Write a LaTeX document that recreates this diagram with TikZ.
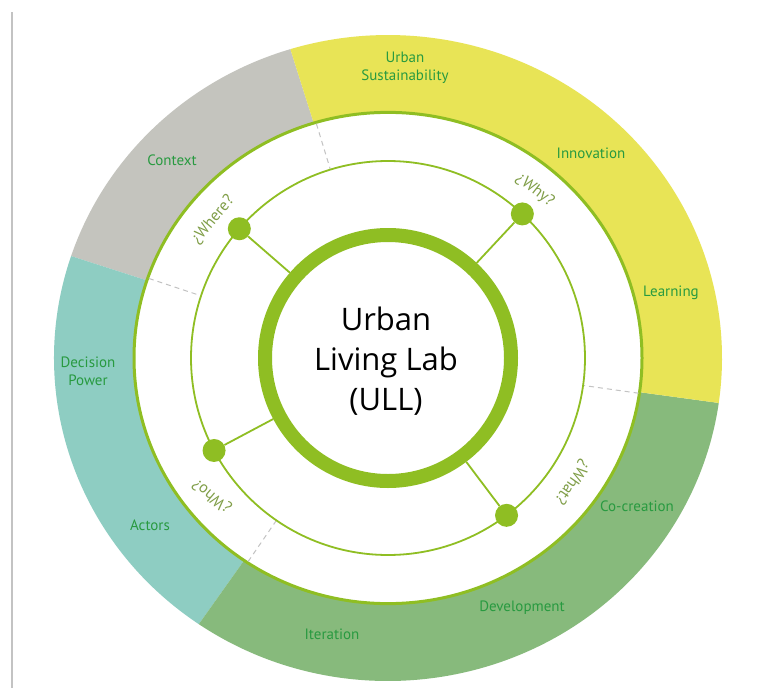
\documentclass[tikz,border=0pt]{standalone}
\usepackage{fontspec}
\setmainfont{PT Sans}
\newfontfamily\ctrfont{Open Sans}
\definecolor{lime}{RGB}{143,190,35}
\definecolor{yellowbg}{RGB}{232,228,86}
\definecolor{graybg}{RGB}{196,196,190}
\definecolor{tealbg}{RGB}{142,205,194}
\definecolor{greenbg}{RGB}{135,186,124}
\definecolor{lbltext}{RGB}{40,154,64}
\definecolor{qtext}{RGB}{128,158,72}
\definecolor{sepgray}{RGB}{195,195,195}
\definecolor{edgegray}{RGB}{195,195,195}
\begin{document}
\begin{tikzpicture}[x=1pt,y=1pt,
  lbl/.style={text=lbltext, font=\fontsize{15}{18}\selectfont, align=center, inner sep=0pt},
  qlbl/.style={text=qtext, font=\fontsize{16}{18}\selectfont, inner sep=0pt},
  dot/.style={circle, fill=lime, minimum size=23pt, inner sep=0pt},
  spoke/.style={draw=lime, line width=1.8pt},
  sepline/.style={draw=sepgray, line width=1pt, dash pattern=on 5pt off 4pt},
  ringnode/.style={circle, draw=lime, fill=white, line width=14pt, minimum size=246pt,
    inner sep=0pt, align=center},
  ctrtext/.style={font=\ctrfont\fontsize{31}{40}\selectfont, align=center, inner sep=0pt}]
\useasboundingbox (0,-688) rectangle (761,0);
\fill[white] (0,-688) rectangle (761,0);
\draw[draw=edgegray, line width=1.5pt] (12,-12) -- (12,-688);
\begin{scope}[shift={(388,-358)}]
  \begin{scope}[yscale=0.967]
    \fill[graybg] (0,0) -- (107:334) arc[start angle=107,end angle=161.6,radius=334] -- cycle;
    \fill[tealbg] (0,0) -- (161.6:334) arc[start angle=161.6,end angle=235.5,radius=334] -- cycle;
    \fill[greenbg] (0,0) -- (235.5:334) arc[start angle=235.5,end angle=352,radius=334] -- cycle;
    \fill[yellowbg] (0,0) -- (-8:334) arc[start angle=-8,end angle=107,radius=334] -- cycle;
    \filldraw[fill=white, draw=lime, line width=3pt] (0,0) circle[radius=254];
  \end{scope}
  \foreach \a/\r in {107/245, 161.6/252, 235.5/247, 352/253}
    \draw[sepline] (\a:\r) -- (\a:198);
  \draw[lime, line width=1.8pt] (0,0) circle[radius=197];
  \node[ringnode] (ull) at (0,0) {};
  \node[ctrtext] (ulltext) at (-2,-3) {Urban\\Living Lab\\(ULL)};
  \node[dot] (dwhy) at (47:197) {};
  \node[dot] (dwhere) at (139:197) {};
  \node[dot] (dwho) at (208:197) {};
  \node[dot] (dwhat) at (307:197) {};
  \draw[spoke] (ull.47) -- (dwhy);
  \draw[spoke] (ull.139) -- (dwhere);
  \draw[spoke] (ull.208) -- (dwho);
  \draw[spoke] (ull.307) -- (dwhat);
\end{scope}
\node[lbl] (lurban) at (405,-68) {Urban\\Sustainability};
\node[lbl] (lcontext) at (172,-160) {Context};
\node[lbl] (linnov) at (591,-153) {Innovation};
\node[lbl] (llearn) at (671,-293) {Learning};
\node[lbl] (ldecision) at (88,-371) {Decision\\Power};
\node[lbl] (lactors) at (150,-525) {Actors};
\node[lbl] (lcocreation) at (637,-506) {Co-creation};
\node[lbl] (ldevelop) at (522,-608) {Development};
\node[lbl] (liter) at (332,-634) {Iteration};
\node[qlbl, rotate=50] (qwhere) at (213,-220) {¿Where?};
\node[qlbl, rotate=-38] (qwhy) at (535,-190) {¿Why?};
\node[qlbl, rotate=140] (qwho) at (212,-496) {¿Who?};
\node[qlbl, rotate=-125] (qwhat) at (572,-482) {¿What?};
\end{tikzpicture}
\end{document}
